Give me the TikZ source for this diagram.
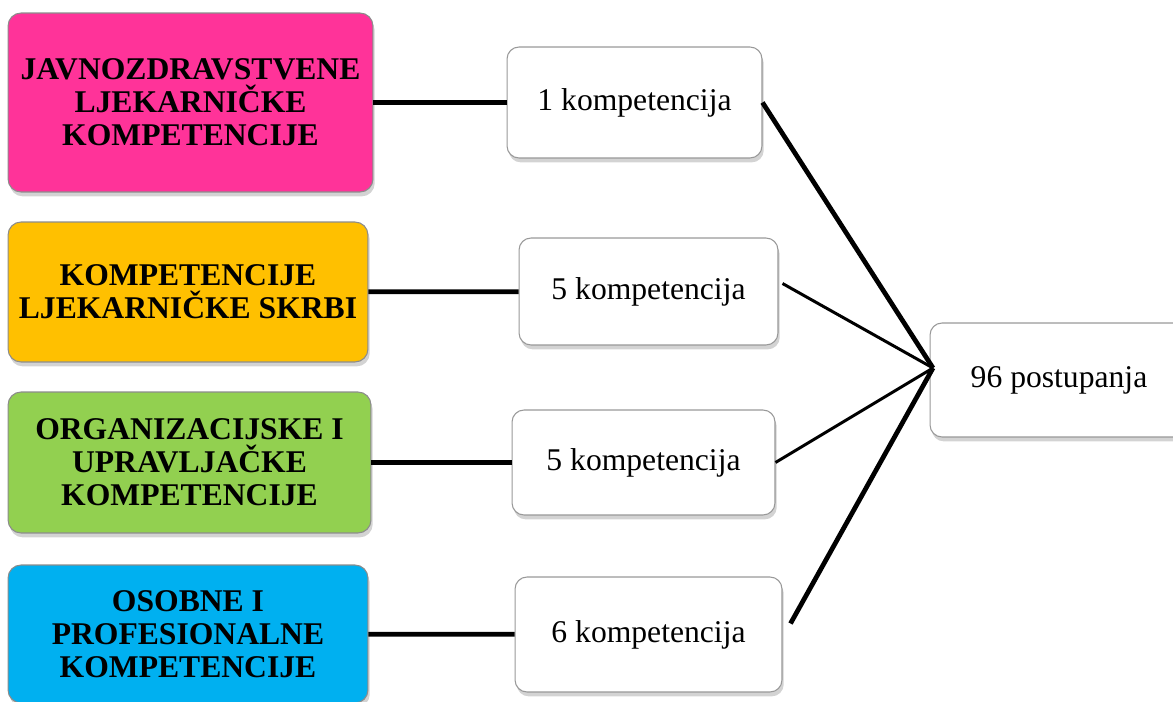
\documentclass[tikz,border=0pt]{standalone}
\usepackage{fontspec}
\setmainfont{Liberation Serif}
\usetikzlibrary{positioning, shadows}
\tikzset{
  area/.style={draw=black!45, line width=0.6pt, rounded corners=0.26cm, inner sep=0pt,
    align=center, font=\bfseries\fontsize{18}{18.8}\selectfont,
    drop shadow={opacity=0.35, shadow xshift=1pt, shadow yshift=-2.5pt}},
  count/.style={draw=black!40, fill=white, line width=0.6pt, rounded corners=0.24cm, inner sep=0pt,
    font=\fontsize{18}{20}\selectfont,
    drop shadow={opacity=0.35, shadow xshift=1pt, shadow yshift=-2.5pt}},
  link/.style={line width=2.7pt},
  thin link/.style={line width=1.7pt}
}
\definecolor{pinkarea}{HTML}{FF3399}
\definecolor{orangearea}{HTML}{FFC000}
\definecolor{greenarea}{HTML}{92D050}
\definecolor{bluearea}{HTML}{00B0F0}

\begin{document}
\begin{tikzpicture}[x=0.02cm, y=-0.02cm]
  \useasboundingbox (0,0) rectangle (1173,702);
%% left column
  \node[area, fill=pinkarea, minimum width=7.3cm, minimum height=3.58cm] (javno) at (190.5,102.5)
    {JAVNOZDRAVSTVENE\\LJEKARNIČKE\\KOMPETENCIJE};
  \node[area, fill=orangearea, minimum width=7.2cm, minimum height=2.8cm] (skrb) at (188,292)
    {KOMPETENCIJE\\LJEKARNIČKE SKRBI};
  \node[area, fill=greenarea, minimum width=7.26cm, minimum height=2.82cm] (org) at (189.5,462.5)
    {ORGANIZACIJSKE I\\UPRAVLJAČKE\\KOMPETENCIJE};
  \node[area, fill=bluearea, minimum width=7.2cm, minimum height=2.76cm] (osob) at (188,634)
    {OSOBNE I\\PROFESIONALNE\\KOMPETENCIJE};
%% middle column
  \node[count, minimum width=5.1cm, minimum height=2.22cm] (k1) at (634.5,102.5) {1 kompetencija};
  \node[count, minimum width=5.18cm, minimum height=2.14cm] (k2) at (648.5,291.5) {5 kompetencija};
  \node[count, minimum width=5.26cm, minimum height=2.1cm] (k3) at (643.5,462.5) {5 kompetencija};
  \node[count, minimum width=5.34cm, minimum height=2.3cm] (k4) at (648.5,634.5) {6 kompetencija};
%% right
  \node[count, minimum width=5.16cm, minimum height=2.28cm] (post) at (1059,380) {96 postupanja};
  \coordinate (hub) at (933,368);
%% connectors
  \draw[link] (javno) -- (k1);
  \draw[link] (skrb) -- (k2);
  \draw[link] (org.east) -- (k3.west);
  \draw[link] (osob) -- (k4);
  \draw[link] (k1.east) -- (hub);
  \draw[thin link] ([shift={(4,-8)}]k2.east) -- (hub);
  \draw[thin link] (k3.east) -- (hub);
  \draw[link] ([shift={(8,-11)}]k4.east) -- (hub);
\end{tikzpicture}
\end{document}
